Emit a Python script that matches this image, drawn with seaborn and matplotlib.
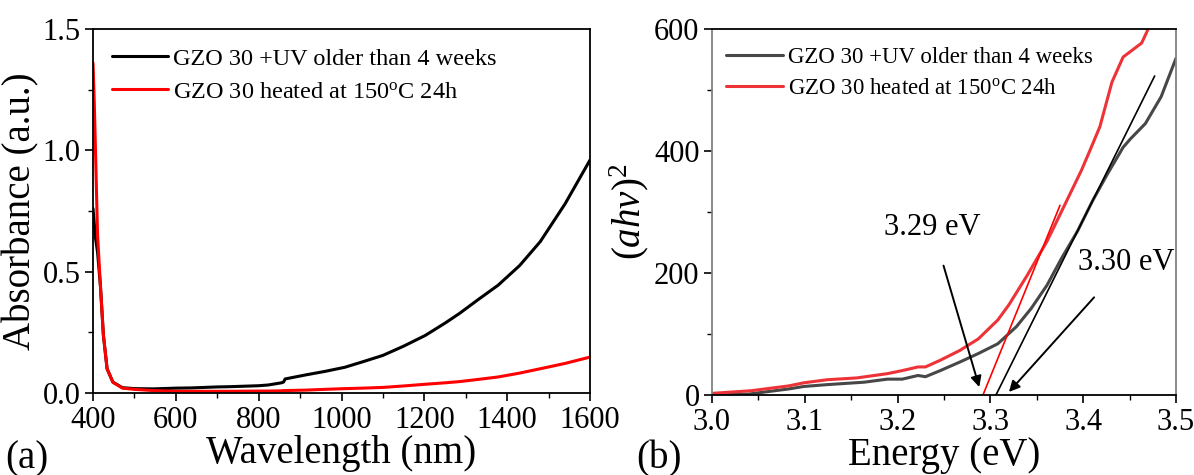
import matplotlib
matplotlib.use("Agg")
import matplotlib.pyplot as plt
import seaborn as sns
import pandas as pd
from matplotlib.ticker import MultipleLocator

# ---- (a) absorbance spectra ----
wavelength = [400, 403, 406, 411, 418, 425, 434, 448, 471, 500, 545, 600, 638, 700,
              730, 800, 823, 855, 860, 864, 915, 960, 1008, 1050, 1100, 1150, 1202,
              1250, 1285, 1330, 1378, 1430, 1480, 1540, 1600]
abs_uv = [0.76, 0.70, 0.64, 0.58, 0.44, 0.24, 0.10, 0.045, 0.022, 0.018, 0.017, 0.020,
          0.021, 0.025, 0.026, 0.030, 0.033, 0.042, 0.045, 0.058, 0.075, 0.089, 0.106,
          0.128, 0.155, 0.193, 0.237, 0.288, 0.328, 0.385, 0.444, 0.525, 0.624, 0.78,
          0.96]
abs_heated = [1.36, 1.20, 1.00, 0.65, 0.44, 0.24, 0.10, 0.044, 0.020, 0.015, 0.010,
              0.007, 0.007, 0.007, 0.007, 0.008, 0.008, 0.009, 0.010, 0.010, 0.012,
              0.015, 0.018, 0.020, 0.023, 0.029, 0.036, 0.042, 0.047, 0.056, 0.066,
              0.082, 0.100, 0.122, 0.148]

# ---- (b) Tauc plot ----
energy_uv = [3.000, 3.040, 3.083, 3.099, 3.124, 3.164, 3.189, 3.205, 3.222, 3.230,
             3.246, 3.267, 3.287, 3.308, 3.328, 3.344, 3.361, 3.377, 3.394, 3.410,
             3.426, 3.443, 3.451, 3.467, 3.484, 3.500]
tauc_uv = [0, 1.6, 10, 14, 17, 21, 26, 26, 32, 30, 40, 54, 68, 84, 112, 142, 180, 225,
           269, 318, 362, 406, 420, 445, 489, 552]
energy_heated = [3.000, 3.042, 3.083, 3.099, 3.124, 3.156, 3.189, 3.205, 3.222, 3.230,
                 3.246, 3.267, 3.287, 3.308, 3.320, 3.340, 3.361, 3.377, 3.398, 3.407,
                 3.418, 3.431, 3.443, 3.463, 3.470]
tauc_heated = [2.7, 7, 15, 20, 25, 28, 35, 40, 46, 46, 57, 73, 92, 123, 148, 197, 252,
               302, 368, 400, 440, 513, 554, 577, 600]

# linear extrapolations of the absorption edges
fit_heated_x = [3.292, 3.375]
fit_heated_y = [0, 311]
fit_uv_x = [3.306, 3.477]
fit_uv_y = [0, 523]

label_uv = "GZO 30 +UV older than 4 weeks"
label_heated = "GZO 30 heated at 150$^{\\mathrm{o}}$C 24h"

sns.set_theme(style="ticks")
plt.rcParams["font.family"] = ["Liberation Serif", "DejaVu Serif"]
plt.rcParams["mathtext.fontset"] = "custom"
plt.rcParams["mathtext.rm"] = "Liberation Serif"
plt.rcParams["mathtext.it"] = "Liberation Serif:italic"
plt.rcParams["axes.linewidth"] = 1.3
for key in ("text.color", "axes.labelcolor", "xtick.color", "ytick.color",
            "axes.edgecolor"):
    plt.rcParams[key] = "black"

fig = plt.figure(figsize=(11.94, 4.75), dpi=100)
ax1 = fig.add_axes([93 / 1194, 1 - 393 / 475, (590 - 93) / 1194, (393 - 29) / 475])
ax2 = fig.add_axes([712 / 1194, 1 - 395 / 475, (1176 - 712) / 1194, (395 - 29) / 475])

df_a = pd.DataFrame({"wl": wavelength, "uv": abs_uv, "heated": abs_heated})
sns.lineplot(data=df_a, x="wl", y="uv", ax=ax1, color="black", lw=2.2,
             label=label_uv, sort=False)
sns.lineplot(data=df_a, x="wl", y="heated", ax=ax1, color="#ff0000", lw=2.2,
             label=label_heated, sort=False)

ax1.set_xlim(400, 1600)
ax1.set_ylim(0, 1.5)
ax1.xaxis.set_major_locator(MultipleLocator(200))
ax1.xaxis.set_minor_locator(MultipleLocator(100))
ax1.yaxis.set_major_locator(MultipleLocator(0.5))
ax1.yaxis.set_minor_locator(MultipleLocator(0.25))
ax1.set_xlabel("Wavelength (nm)", fontsize=28, labelpad=0)
ax1.set_ylabel("Absorbance (a.u.)", fontsize=28, labelpad=2)
ax1.legend(loc="upper left", frameon=False, fontsize=17.5, handlelength=2.3,
           handletextpad=0.2, borderaxespad=0.3, labelspacing=0.45,
           bbox_to_anchor=(0.005, 0.995))

df_u = pd.DataFrame({"E": energy_uv, "v": tauc_uv})
df_h = pd.DataFrame({"E": energy_heated, "v": tauc_heated})
sns.lineplot(data=df_u, x="E", y="v", ax=ax2, color="#474747", lw=2.2,
             label=label_uv, sort=False)
sns.lineplot(data=df_h, x="E", y="v", ax=ax2, color="#ee3338", lw=2.2,
             label=label_heated, sort=False)
ax2.plot(fit_heated_x, fit_heated_y, color="#ff0000", lw=1.2)
ax2.plot(fit_uv_x, fit_uv_y, color="black", lw=1.2)

ax2.annotate("3.29 eV", xy=(3.288, 13), xytext=(3.2375, 274), fontsize=22,
             ha="center", va="center",
             arrowprops=dict(arrowstyle="-|>", color="black", lw=1.4,
                             mutation_scale=16, shrinkA=15, shrinkB=0))
ax2.annotate("3.30 eV", xy=(3.32, 5), xytext=(3.446, 218), fontsize=22,
             ha="center", va="center",
             arrowprops=dict(arrowstyle="-|>", color="black", lw=1.4,
                             mutation_scale=16, shrinkA=17, shrinkB=0))

ax2.set_xlim(3.0, 3.5)
ax2.set_ylim(0, 600)
ax2.xaxis.set_major_locator(MultipleLocator(0.1))
ax2.xaxis.set_minor_locator(MultipleLocator(0.05))
ax2.yaxis.set_major_locator(MultipleLocator(200))
ax2.yaxis.set_minor_locator(MultipleLocator(100))
ax2.set_xlabel("Energy (eV)", fontsize=28, labelpad=0)
ax2.set_ylabel("$(ahv)^{2}$", fontsize=28, labelpad=2)
ax2.legend(loc="upper left", frameon=False, fontsize=16.5, handlelength=2.5,
           handletextpad=0.2, borderaxespad=0.3, labelspacing=0.45,
           bbox_to_anchor=(-0.005, 0.995))
for side in ("left", "right"):
    ax2.spines[side].set_color("#808080")

for ax in (ax1, ax2):
    for side in ("top", "right"):
        ax.spines[side].set_visible(True)
    ax.tick_params(which="major", direction="out", length=6, width=1.2,
                   labelsize=22, pad=3, color="black")
    ax.tick_params(which="minor", direction="out", length=3.5, width=1.0,
                   color="black")
    ax.tick_params(top=False, right=False, which="both")

fig.text(5 / 1194, 1 - 468 / 475, "(a)", fontsize=28, ha="left", va="baseline")
fig.text(636 / 1194, 1 - 468 / 475, "(b)", fontsize=28, ha="left", va="baseline")

fig.savefig("out.png", dpi=100, facecolor="white")
